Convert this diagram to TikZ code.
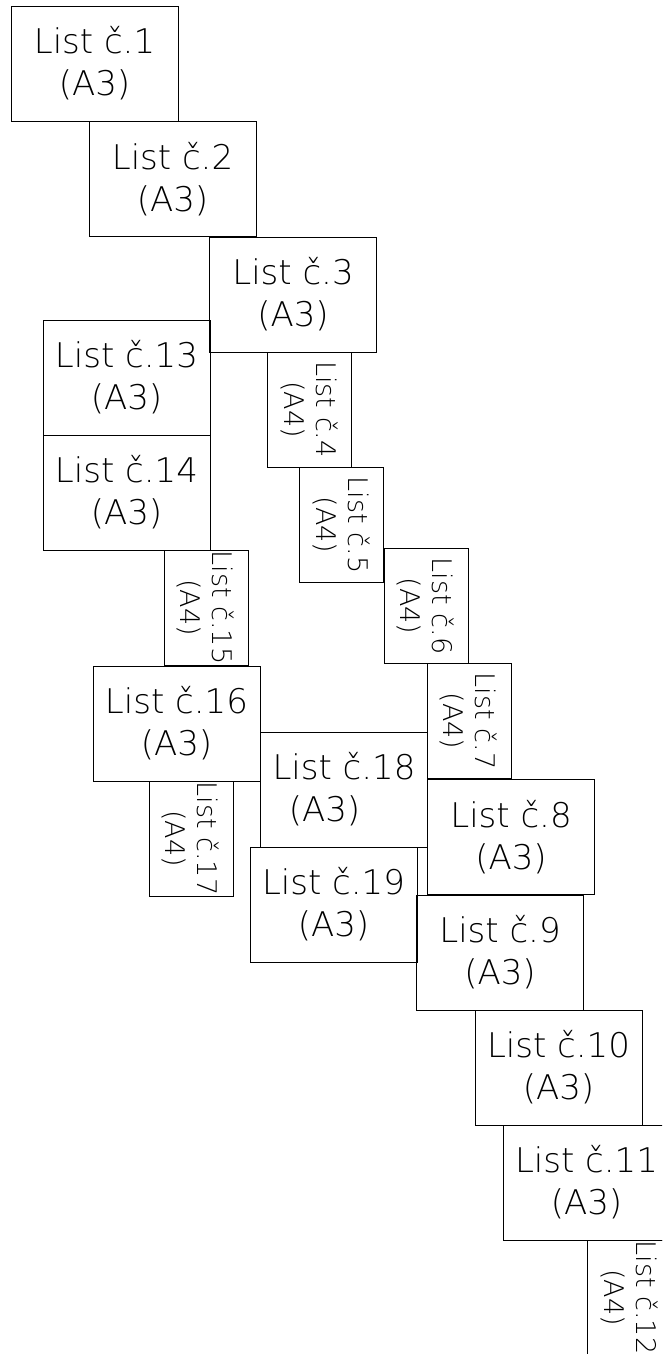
\documentclass[tikz,border=0pt]{standalone}
\usepackage{fontspec}
\setmainfont{DejaVu Sans ExtraLight}
\usepackage{tikz}
\usetikzlibrary{positioning}

\begin{document}
\begin{tikzpicture}[x=1pt, y=-1pt, line width=0.9pt]
        % Setup the style for the sheets
        \tikzset{a3 sheet/.style={draw,
                                  minimum width=167pt,
                                  minimum height=115pt,
                                  inner sep=0pt,
                                  outer sep=0pt,
                                  align=center,
                                  font=\fontsize{34}{42}\selectfont},
                 a4 sheet/.style={a3 sheet,
                                  minimum width=84pt},
                 a4 text/.style={rotate=-90,
                                 align=center,
                                 inner sep=0pt,
                                 font=\fontsize{27}{32}\selectfont}}

        \useasboundingbox (0,0) rectangle (662,1354);
        \clip (0,0) rectangle (662,1354);

        % Draw the sheets
        \node[a3 sheet] at (94.5, 63.5)   (list1)  {List č.1\\(A3)};
        \node[a3 sheet] at (172.5, 179)   (list2)  {List č.2\\(A3)};
        \node[a3 sheet] at (293, 294.5)   (list3)  {List č.3\\(A3)};
        \node[a4 sheet] at (309.5, 409.5) (list4)  {};
        \node[a4 sheet] at (341.5, 525)   (list5)  {};
        \node[a4 sheet] at (426, 606)     (list6)  {};
        \node[a4 sheet] at (469, 721)     (list7)  {};
        \node[a3 sheet] at (511, 837)     (list8)  {List č.8\\(A3)};
        \node[a3 sheet] at (500, 952.5)   (list9)  {List č.9\\(A3)};
        \node[a3 sheet] at (558.5, 1067.5) (list10) {List č.10\\(A3)};
        \node[a3 sheet] at (586.5, 1182.5) (list11) {List č.11\\(A3)};
        \node[a4 sheet] at (629.5, 1297.5) (list12) {};
        \node[a3 sheet] at (126.5, 377.5) (list13) {List č.13\\(A3)};
        \node[a3 sheet] at (126.5, 492.5) (list14) {List č.14\\(A3)};
        \node[a4 sheet] at (206, 607.5)   (list15) {};
        \node[a3 sheet] at (176.5, 723.5) (list16) {List č.16\\(A3)};
        \node[a4 sheet] at (191, 838.5)   (list17) {};
        \node[a3 sheet] at (344, 789.5)   (list18) {List č.18\\(A3)\hspace*{39pt}};
        \node[a3 sheet] at (333.5, 904.5) (list19) {List č.19\\(A3)};

        % Upright texts of the A4 sheets
        \foreach \n in {4,5,6,7,12,15,17}
            \node[a4 text] at (list\n.center) (text\n) {List č.\n\\(A4)};
\end{tikzpicture}
\end{document}
